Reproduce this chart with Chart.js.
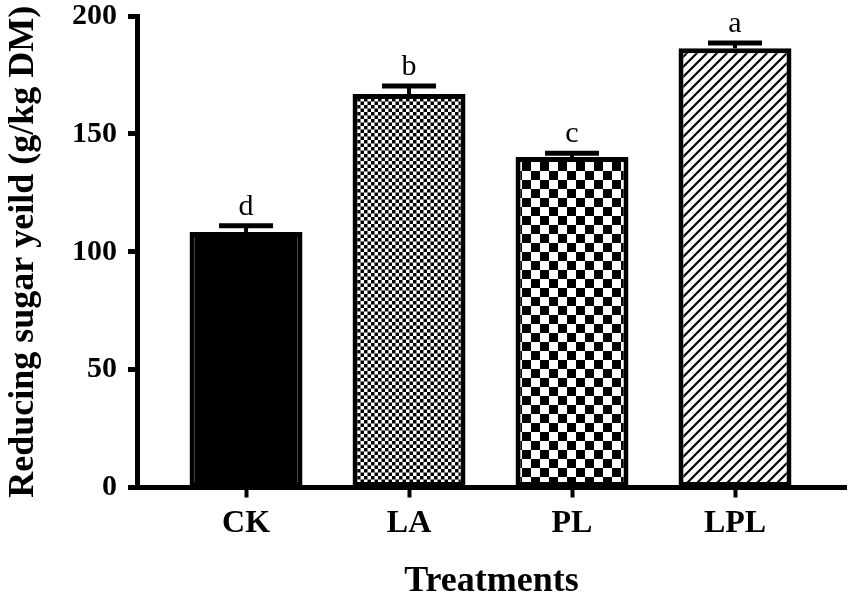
<!DOCTYPE html>
<html><head><meta charset="utf-8">
<script src="https://cdn.jsdelivr.net/npm/chart.js@4/dist/chart.umd.min.js"></script>
<style>html,body{margin:0;padding:0;background:#fff}#wrap{width:851px;height:603px}</style>
</head><body><div id="wrap"><canvas id="c" width="851" height="603"></canvas></div>
<script>
const categories = ['CK', 'LA', 'PL', 'LPL'];
const values = [108.4, 166.9, 140.2, 186.3];
const errors = [2.6, 3.4, 1.6, 2.3];
const letters = ['d', 'b', 'c', 'a'];
const yTicks = [0, 50, 100, 150, 200];
const yTitle = 'Reducing sugar yeild (g/kg DM)';
const xTitle = 'Treatments';

const FONT = "'Liberation Serif', 'Times New Roman', serif";

function tileCanvas(size, draw) {
  const c = document.createElement('canvas');
  c.width = size; c.height = size;
  const g = c.getContext('2d');
  g.fillStyle = '#fff'; g.fillRect(0, 0, size, size);
  draw(g, size);
  return c;
}
function checker(size, scale) {
  const ctx = document.getElementById('c').getContext('2d');
  const t = tileCanvas(size * 2, (g, s) => {
    g.fillStyle = '#000';
    g.fillRect(0, 0, size, size);
    g.fillRect(size, size, size, size);
  });
  const p = ctx.createPattern(t, 'repeat');
  p.setTransform(new DOMMatrix().scale(scale));
  return p;
}
function hatch() {
  const ctx = document.getElementById('c').getContext('2d');
  const t = tileCanvas(10, (g, s) => {
    g.strokeStyle = '#000'; g.lineWidth = 2.2; g.lineCap = 'square';
    g.beginPath();
    g.moveTo(-2, s + 2); g.lineTo(s + 2, -2);
    g.moveTo(-2, 2); g.lineTo(2, -2);
    g.moveTo(s - 2, s + 2); g.lineTo(s + 2, s - 2);
    g.stroke();
  });
  return ctx.createPattern(t, 'repeat');
}

const fills = ['#000', checker(7, 0.5), checker(9, 1), hatch()];

const errorPlugin = {
  id: 'errs',
  afterDatasetsDraw(chart) {
    const ctx = chart.ctx;
    const meta = chart.getDatasetMeta(0);
    const ys = chart.scales.y;
    ctx.save();
    ctx.strokeStyle = '#000';
    ctx.fillStyle = '#000';
    meta.data.forEach((bar, i) => {
      const x = bar.x;
      const yTop = ys.getPixelForValue(values[i] + errors[i]);
      const yBar = ys.getPixelForValue(values[i]);
      ctx.lineWidth = 4;
      ctx.beginPath(); ctx.moveTo(x, yBar); ctx.lineTo(x, yTop); ctx.stroke();
      ctx.lineWidth = 5;
      ctx.beginPath(); ctx.moveTo(x - 27, yTop); ctx.lineTo(x + 27, yTop); ctx.stroke();
      ctx.font = "30px " + FONT;
      ctx.textAlign = 'center';
      ctx.textBaseline = 'alphabetic';
      ctx.fillText(letters[i], x, yTop - 11);
    });
    ctx.restore();
  }
};

new Chart(document.getElementById('c'), {
  type: 'bar',
  data: {
    datasets: [{
      data: values.map((v, i) => ({ x: i, y: v })),
      backgroundColor: fills,
      borderColor: '#000',
      borderWidth: 5,
      borderSkipped: false,
      barPercentage: 0.693,
      categoryPercentage: 1
    }]
  },
  options: {
    responsive: false,
    animation: false,
    devicePixelRatio: 1,
    layout: { padding: { left: 0, top: 16, right: 5, bottom: 0 } },
    plugins: { legend: { display: false }, tooltip: { enabled: false } },
    scales: {
      x: {
        type: 'linear', min: -0.669, max: 3.681, offset: false,
        afterBuildTicks: s => { s.ticks = categories.map((c, i) => ({ value: i })); },
        afterFit: s => { s.height = 115.5; s.paddingLeft = 0; s.paddingRight = 0; },
        ticks: { callback: v => categories[v], color: '#000', padding: 7, autoSkip: false, maxRotation: 0,
          font: { family: FONT, size: 32, weight: 'bold' } },
        grid: { offset: false, drawOnChartArea: false, drawTicks: true, tickLength: 10, tickWidth: 4, tickColor: '#000' },
        border: { display: true, color: '#000', width: 5 },
        title: { display: true, text: xTitle, color: '#000', padding: 0,
          font: { family: FONT, size: 36, weight: 'bold' } }
      },
      y: {
        min: 0, max: 200,
        afterBuildTicks: s => { s.ticks = yTicks.map(v => ({ value: v })); },
        afterFit: s => { s.width = 137; s.paddingTop = 0; s.paddingBottom = 0; },
        ticks: { color: '#000', padding: 11, font: { family: FONT, size: 30, weight: 'bold' } },
        grid: { drawOnChartArea: false, drawTicks: true, tickLength: 9, tickWidth: 5, tickColor: '#000' },
        border: { display: true, color: '#000', width: 5 },
        title: { display: true, text: yTitle, color: '#000', padding: { top: 2, bottom: 0 },
          font: { family: FONT, size: 36, weight: 'bold' } }
      }
    }
  },
  plugins: [errorPlugin]
});
</script>
</body></html>
